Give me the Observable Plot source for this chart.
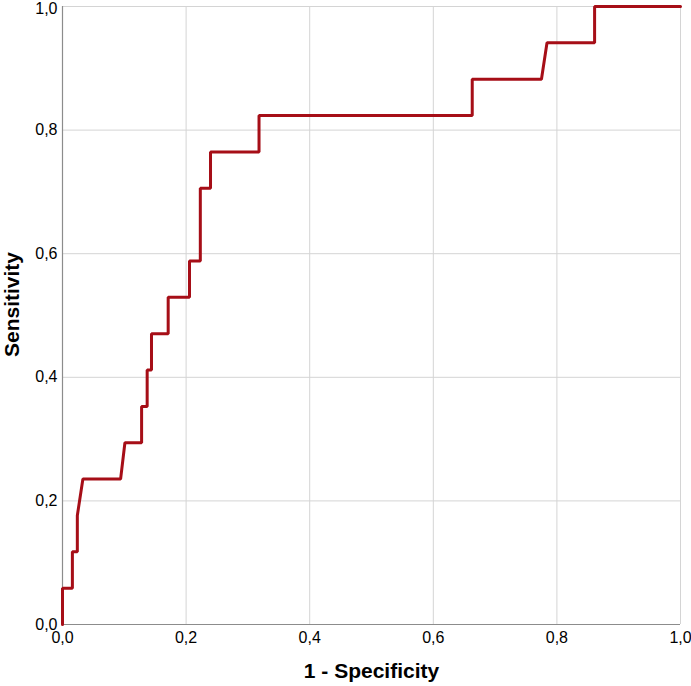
<!DOCTYPE html>
<html>
<head>
<meta charset="utf-8">
<script src="https://cdn.jsdelivr.net/npm/d3@7"></script>
<script src="https://cdn.jsdelivr.net/npm/@observablehq/plot@0.6"></script>
<style>
  html, body { margin: 0; padding: 0; background: #fff; }
  #chart svg { display: block; }
</style>
</head>
<body>
<div id="chart"></div>
<script>
// ROC curve vertices (1 - Specificity, Sensitivity)
const fpr = [0, 0, 0.016, 0.016, 0.024, 0.024, 0.033, 0.094, 0.101, 0.128, 0.128, 0.137, 0.137, 0.144, 0.144, 0.171, 0.171, 0.2055, 0.2055, 0.223, 0.223, 0.2395, 0.2395, 0.318, 0.318, 0.663, 0.663, 0.775, 0.784, 0.861, 0.861, 1.0];
const tpr = [0, 0.0588, 0.0588, 0.1176, 0.1176, 0.1765, 0.2353, 0.2353, 0.2941, 0.2941, 0.3529, 0.3529, 0.4118, 0.4118, 0.4706, 0.4706, 0.5294, 0.5294, 0.5882, 0.5882, 0.7059, 0.7059, 0.7647, 0.7647, 0.8235, 0.8235, 0.8824, 0.8824, 0.9412, 0.9412, 1.0, 1.0];
const tickValues = [0, 0.2, 0.4, 0.6, 0.8, 1.0];
const xLabel = "1 - Specificity";
const yLabel = "Sensitivity";

const points = fpr.map((x, i) => ({x, y: tpr[i]}));
const fmt = d => d.toFixed(1).replace(".", ",");

const chart = Plot.plot({
  width: 691,
  height: 686,
  marginLeft: 62,
  marginRight: 11,
  marginTop: 6,
  marginBottom: 62,
  style: {fontFamily: "'Liberation Sans', Arial, sans-serif", fontSize: "16px", color: "#000", background: "#fff"},
  x: {domain: [0, 1], label: null},
  y: {domain: [0, 1], label: null},
  marks: [
    Plot.gridX(tickValues, {stroke: "#d4d4d4", strokeOpacity: 1, strokeWidth: 1}),
    Plot.gridY(tickValues, {stroke: "#d4d4d4", strokeOpacity: 1, strokeWidth: 1}),
    Plot.ruleX([0], {stroke: "#8c8c8c", strokeWidth: 1.2}),
    Plot.ruleY([0], {stroke: "#8c8c8c", strokeWidth: 1.2}),
    Plot.axisX({ticks: tickValues, tickFormat: fmt, tickSize: 0, tickPadding: 7, label: null, fontSize: 16, fill: "#000"}),
    Plot.axisY({ticks: tickValues.slice(0, -1), tickFormat: fmt, tickSize: 0, tickPadding: 5, label: null, fontSize: 16, fill: "#000"}),
    Plot.axisY({ticks: tickValues.slice(-1), tickFormat: fmt, tickSize: 0, tickPadding: 5, dy: 2, label: null, fontSize: 16, fill: "#000"}),
    Plot.line(points, {x: "x", y: "y", stroke: "#a60e17", strokeWidth: 3, strokeLinejoin: "miter", curve: "linear"}),
    Plot.text([xLabel], {frameAnchor: "bottom", dy: 53, fontSize: 21, fontWeight: "bold", fill: "#000"}),
    Plot.text([yLabel], {frameAnchor: "left", textAnchor: "middle", dx: -50, dy: -11, rotate: -90, fontSize: 21, fontWeight: "bold", fill: "#000"})
  ]
});
document.getElementById("chart").appendChild(chart);
</script>
</body>
</html>
